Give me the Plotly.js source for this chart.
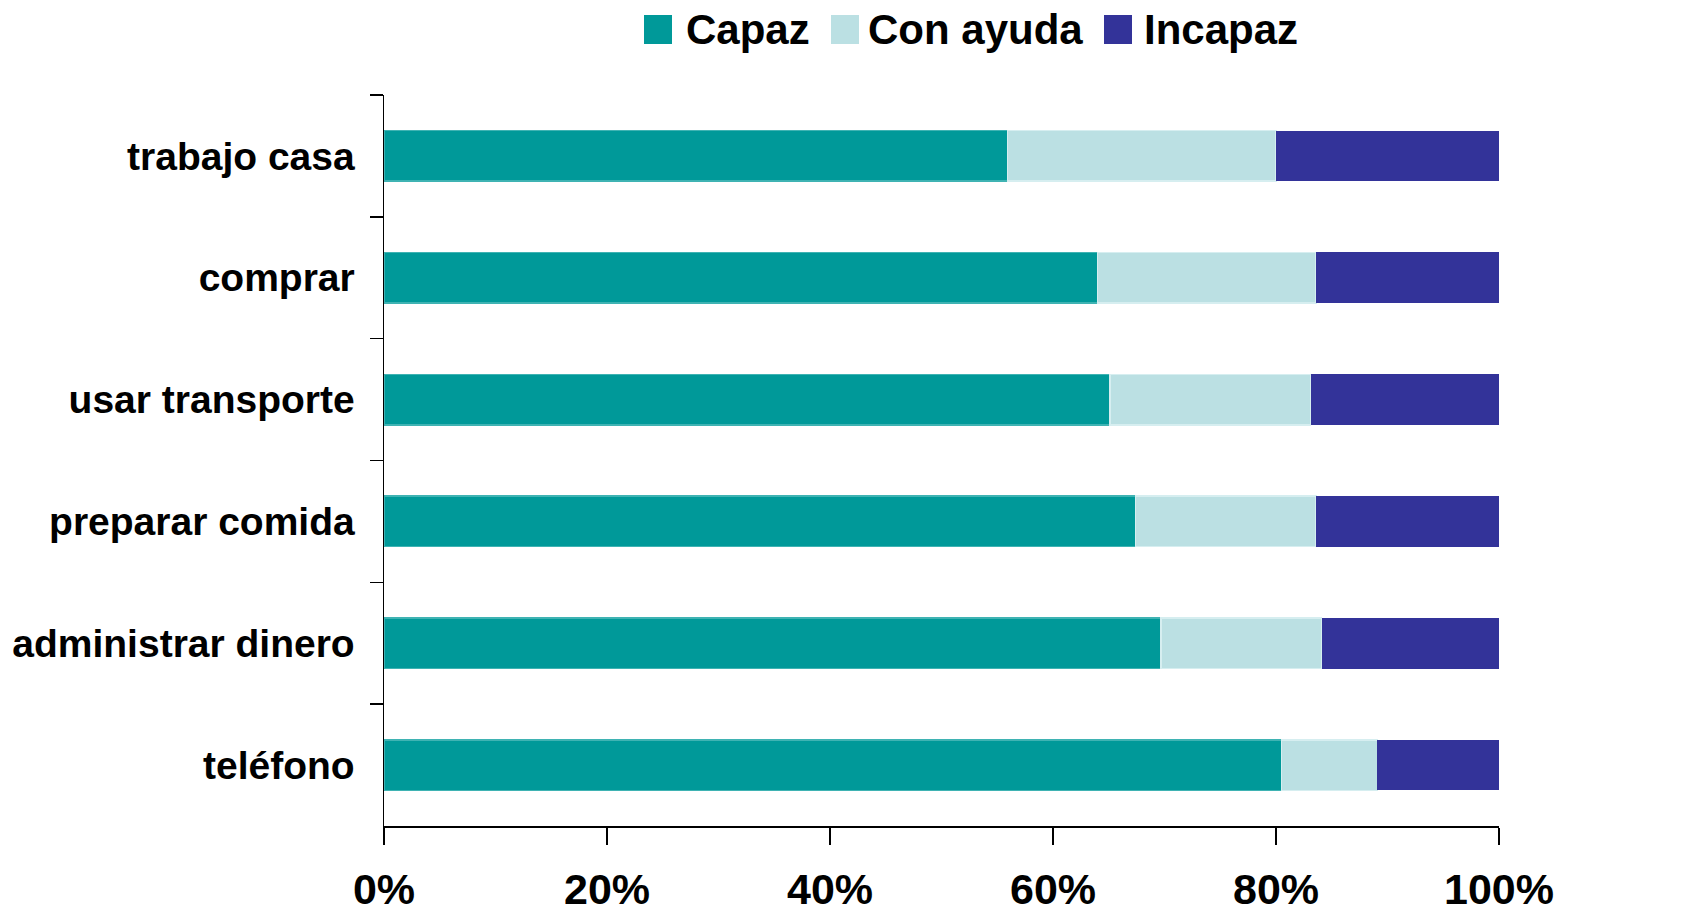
<!DOCTYPE html>
<html>
<head>
<meta charset="utf-8">
<script src="https://cdn.plot.ly/plotly-3.0.1.min.js"></script>
<style>
  html, body { margin: 0; padding: 0; background: #ffffff; }
  #chart { width: 1681px; height: 917px; }
</style>
</head>
<body>
<div id="chart"></div>
<script>
// ---- data ----
const categories = ["trabajo casa", "comprar", "usar transporte", "preparar comida", "administrar dinero", "teléfono"];
const capaz    = [0.559, 0.640, 0.651, 0.674, 0.697, 0.805];
const conAyuda = [0.241, 0.196, 0.180, 0.162, 0.144, 0.086];
const incapaz  = [0.200, 0.164, 0.169, 0.164, 0.159, 0.109];
const seriesNames = ["Capaz", "Con ayuda", "Incapaz"];
const xTickVals = [0, 0.2, 0.4, 0.6, 0.8, 1.0];
const xTickText = ["0%", "20%", "40%", "60%", "80%", "100%"];

// ---- styling ----
const colors = ["#009999", "#bbe0e3", "#333399"];
const lineColors = ["#3fb3b3", "#d6eef0", "#333399"];
const lineWidths = [1.5, 1.5, 0];
const W = 1681, H = 917;
const M = { l: 384, r: 182, t: 95, b: 91 };
const plotW = W - M.l - M.r, plotH = H - M.t - M.b;
const px2x = p => (p - M.l) / plotW;
const px2y = p => (H - M.b - p) / plotH;

const seriesValues = [capaz, conAyuda, incapaz];
const traces = seriesValues.map((vals, i) => ({
  type: "bar",
  orientation: "h",
  name: seriesNames[i],
  y: categories,
  x: vals,
  marker: { color: colors[i], line: { color: lineColors[i], width: lineWidths[i] } },
  showlegend: false,
  hoverinfo: "x+y+name"
}));

// custom legend (large square swatches like the reference)
const legendSquares = [644, 831, 1104];
const legendTextX = [684, 866, 1142];
const shapes = [];
const annotations = [];
seriesNames.forEach((n, i) => {
  shapes.push({
    type: "rect", xref: "paper", yref: "paper",
    x0: px2x(legendSquares[i]), x1: px2x(legendSquares[i] + 28),
    y0: px2y(44), y1: px2y(15),
    fillcolor: colors[i], line: { width: 0 }
  });
  annotations.push({
    xref: "paper", yref: "paper",
    x: px2x(legendTextX[i]), y: px2y(30),
    xanchor: "left", yanchor: "middle",
    text: n, showarrow: false,
    font: { family: "Liberation Sans, Arial, sans-serif", size: 42, color: "#000000", weight: "bold" }
  });
});

const layout = {
  width: W, height: H,
  margin: M,
  paper_bgcolor: "#ffffff",
  plot_bgcolor: "#ffffff",
  barmode: "stack",
  bargap: 0.585,
  showlegend: false,
  font: { family: "Liberation Sans, Arial, sans-serif", color: "#000000" },
  xaxis: {
    range: [0, 1],
    tickvals: xTickVals,
    ticktext: xTickText,
    ticks: "outside",
    ticklen: 17,
    tickwidth: 1.5,
    tickcolor: "#000000",
    showline: true,
    linecolor: "#000000",
    linewidth: 1.5,
    showgrid: false,
    zeroline: false,
    ticklabelstandoff: 8,
    tickfont: { family: "Liberation Sans, Arial, sans-serif", size: 43, weight: "bold", color: "#000000" }
  },
  yaxis: {
    type: "category",
    autorange: "reversed",
    ticks: "outside",
    tickson: "boundaries",
    ticklen: 13,
    tickwidth: 1.5,
    tickcolor: "#000000",
    showline: true,
    linecolor: "#000000",
    linewidth: 1.5,
    showgrid: false,
    zeroline: false,
    ticklabelstandoff: 20,
    tickfont: { family: "Liberation Sans, Arial, sans-serif", size: 39, weight: "bold", color: "#000000" }
  },
  shapes: shapes,
  annotations: annotations
};

Plotly.newPlot("chart", traces, layout, { displayModeBar: false, staticPlot: true });
</script>
</body>
</html>
